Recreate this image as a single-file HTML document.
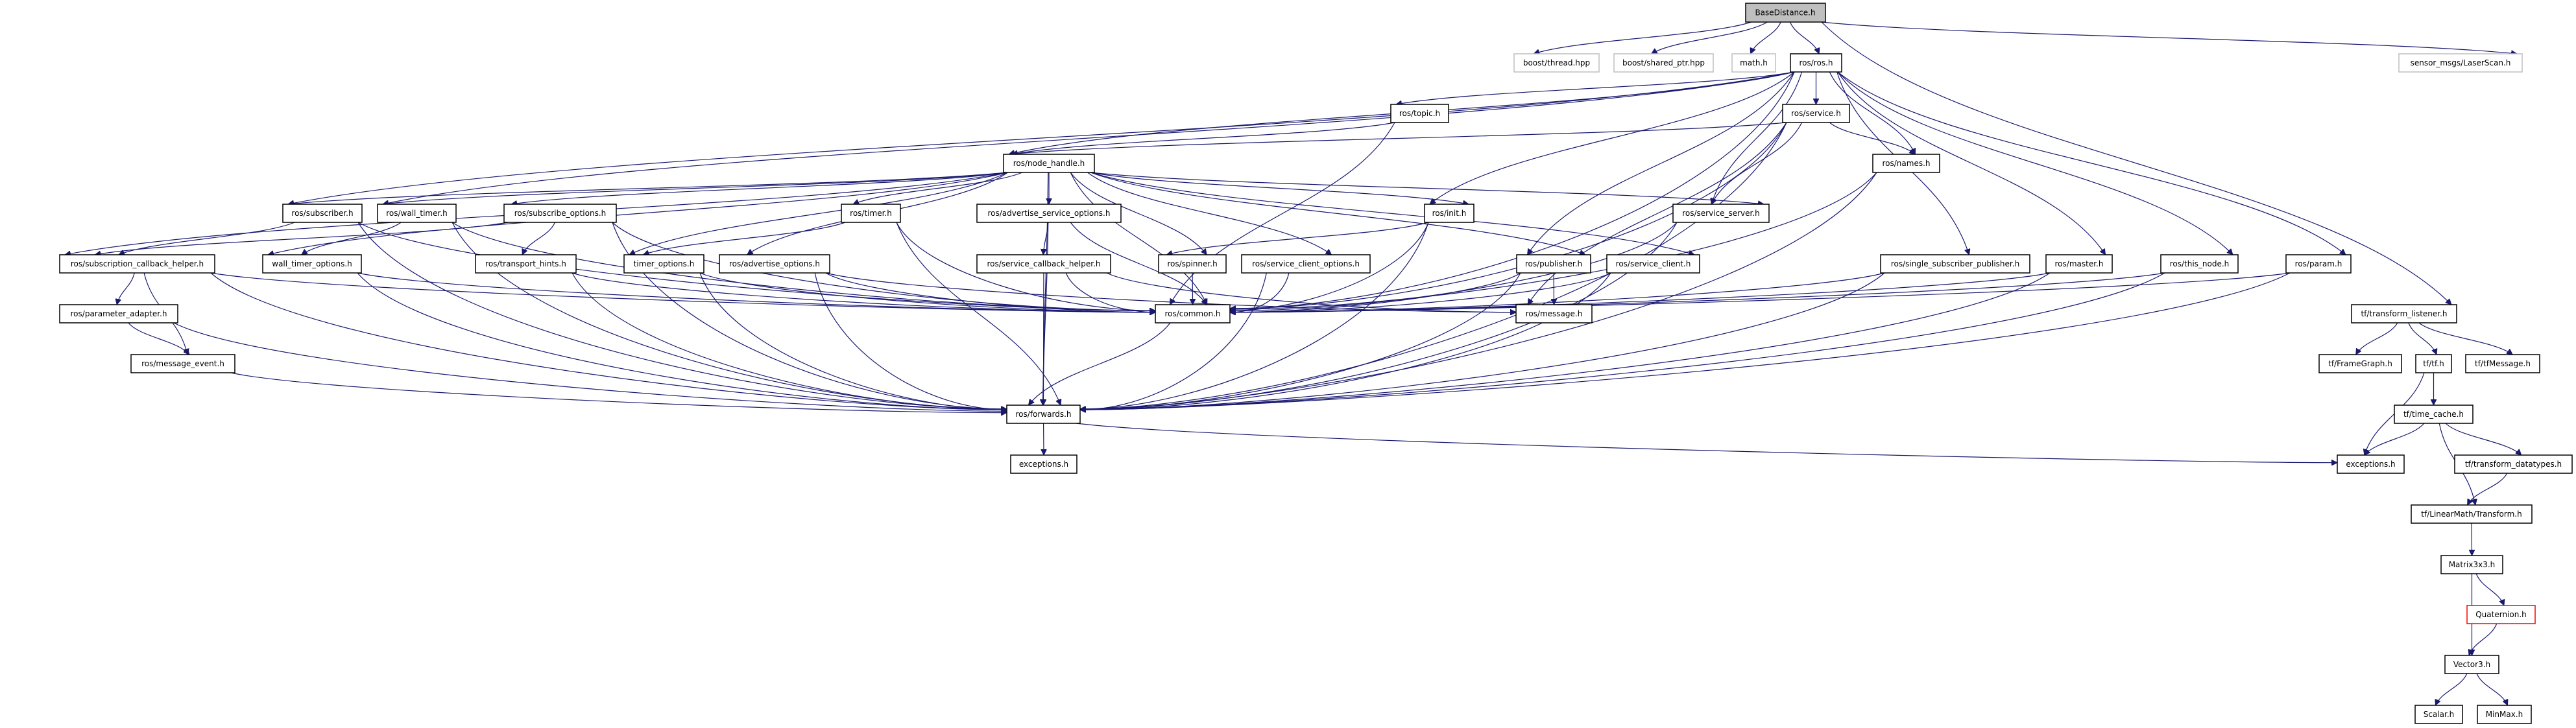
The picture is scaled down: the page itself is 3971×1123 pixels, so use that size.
<!DOCTYPE html>
<html><head><meta charset="utf-8">
<style>
html,body{margin:0;padding:0;background:#fff;}
svg{display:block;}
text{font-family:"DejaVu Sans","Liberation Sans",sans-serif;font-size:12px;fill:#000;text-anchor:middle;dominant-baseline:central;}
rect{fill:#fff;stroke:#000;stroke-width:1.5;}
rect.g{stroke:#bfbfbf;}
rect.b{fill:#bfbfbf;stroke:#000;}
rect.r{stroke:#ff0000;}
path.e{fill:none;stroke:#191970;stroke-width:1.2;}
</style></head><body>
<svg id="s" width="3971" height="1123" viewBox="0 0 3971 1123" xmlns="http://www.w3.org/2000/svg">
<defs><marker id="a" viewBox="0 0 10 10" refX="10" refY="5" markerWidth="9" markerHeight="9" markerUnits="userSpaceOnUse" orient="auto"><path d="M0,0 L10,5 L0,10 z" fill="#191970" stroke="#191970"/></marker></defs>
<g id="edges"></g>
<g id="nodes">
<g id="base"><rect class="b" x="2691" y="5" width="123" height="29"/><text x="2752" y="19.5">BaseDistance.h</text></g>
<g id="thread"><rect class="g" x="2334" y="83" width="131" height="28"/><text x="2399.5" y="97">boost/thread.hpp</text></g>
<g id="sptr"><rect class="g" x="2488" y="83" width="153" height="28"/><text x="2564.5" y="97">boost/shared_ptr.hpp</text></g>
<g id="math"><rect class="g" x="2670" y="83" width="67" height="28"/><text x="2703.5" y="97">math.h</text></g>
<g id="ros"><rect x="2760" y="83" width="79" height="28"/><text x="2799.5" y="97">ros/ros.h</text></g>
<g id="laser"><rect class="g" x="3698" y="83" width="190" height="28"/><text x="3793" y="97">sensor_msgs/LaserScan.h</text></g>
<g id="topic"><rect x="2144" y="161" width="89" height="28"/><text x="2188.5" y="175">ros/topic.h</text></g>
<g id="service"><rect x="2748" y="161" width="103" height="28"/><text x="2799.5" y="175">ros/service.h</text></g>
<g id="nh"><rect x="1547" y="238" width="140" height="28"/><text x="1617" y="252">ros/node_handle.h</text></g>
<g id="names"><rect x="2887" y="238" width="103" height="28"/><text x="2938.5" y="252">ros/names.h</text></g>
<g id="subscriber"><rect x="436" y="315" width="122" height="28"/><text x="497" y="329">ros/subscriber.h</text></g>
<g id="wt"><rect x="582" y="315" width="121" height="28"/><text x="642.5" y="329">ros/wall_timer.h</text></g>
<g id="subopts"><rect x="777" y="315" width="173" height="28"/><text x="863.5" y="329">ros/subscribe_options.h</text></g>
<g id="timer"><rect x="1297" y="315" width="91" height="28"/><text x="1342.5" y="329">ros/timer.h</text></g>
<g id="aso"><rect x="1506" y="315" width="222" height="28"/><text x="1617" y="329">ros/advertise_service_options.h</text></g>
<g id="init"><rect x="2196" y="315" width="76" height="28"/><text x="2234" y="329">ros/init.h</text></g>
<g id="sserver"><rect x="2579" y="315" width="148" height="28"/><text x="2653" y="329">ros/service_server.h</text></g>
<g id="scb"><rect x="92" y="393" width="239" height="28"/><text x="211.5" y="407">ros/subscription_callback_helper.h</text></g>
<g id="wto"><rect x="405" y="393" width="152" height="28"/><text x="481" y="407">wall_timer_options.h</text></g>
<g id="th"><rect x="733" y="393" width="155" height="28"/><text x="810.5" y="407">ros/transport_hints.h</text></g>
<g id="to"><rect x="962" y="393" width="123" height="28"/><text x="1023.5" y="407">timer_options.h</text></g>
<g id="ao"><rect x="1109" y="393" width="170" height="28"/><text x="1194" y="407">ros/advertise_options.h</text></g>
<g id="sch"><rect x="1506" y="393" width="206" height="28"/><text x="1609" y="407">ros/service_callback_helper.h</text></g>
<g id="spinner"><rect x="1786" y="393" width="104" height="28"/><text x="1838" y="407">ros/spinner.h</text></g>
<g id="sco"><rect x="1914" y="393" width="198" height="28"/><text x="2013" y="407">ros/service_client_options.h</text></g>
<g id="pub"><rect x="2338" y="393" width="114" height="28"/><text x="2395" y="407">ros/publisher.h</text></g>
<g id="sclient"><rect x="2477" y="393" width="143" height="28"/><text x="2548.5" y="407">ros/service_client.h</text></g>
<g id="ssp"><rect x="2899" y="393" width="230" height="28"/><text x="3014" y="407">ros/single_subscriber_publisher.h</text></g>
<g id="master"><rect x="3154" y="393" width="102" height="28"/><text x="3205" y="407">ros/master.h</text></g>
<g id="thisnode"><rect x="3331" y="393" width="119" height="28"/><text x="3390.5" y="407">ros/this_node.h</text></g>
<g id="param"><rect x="3524" y="393" width="100" height="28"/><text x="3574" y="407">ros/param.h</text></g>
<g id="pa"><rect x="92" y="470" width="182" height="28"/><text x="183" y="484">ros/parameter_adapter.h</text></g>
<g id="common"><rect x="1781" y="470" width="115" height="28"/><text x="1838.5" y="484">ros/common.h</text></g>
<g id="message"><rect x="2337" y="470" width="117" height="28"/><text x="2395.5" y="484">ros/message.h</text></g>
<g id="tl"><rect x="3625" y="470" width="162" height="28"/><text x="3706" y="484">tf/transform_listener.h</text></g>
<g id="me"><rect x="202" y="547" width="160" height="28"/><text x="282" y="561">ros/message_event.h</text></g>
<g id="fg"><rect x="3575" y="547" width="127" height="28"/><text x="3638.5" y="561">tf/FrameGraph.h</text></g>
<g id="tfh"><rect x="3724" y="547" width="55" height="28"/><text x="3751.5" y="561">tf/tf.h</text></g>
<g id="tfm"><rect x="3801" y="547" width="114" height="28"/><text x="3858" y="561">tf/tfMessage.h</text></g>
<g id="fwd"><rect x="1552" y="625" width="113" height="28"/><text x="1608.5" y="639">ros/forwards.h</text></g>
<g id="tc"><rect x="3691" y="625" width="121" height="28"/><text x="3751.5" y="639">tf/time_cache.h</text></g>
<g id="exc"><rect x="1558" y="702" width="102" height="28"/><text x="1609" y="716">exceptions.h</text></g>
<g id="exc2"><rect x="3603" y="702" width="103" height="28"/><text x="3654.5" y="716">exceptions.h</text></g>
<g id="td"><rect x="3784" y="702" width="181" height="28"/><text x="3874.5" y="716">tf/transform_datatypes.h</text></g>
<g id="tr"><rect x="3717" y="779" width="186" height="28"/><text x="3810" y="793">tf/LinearMath/Transform.h</text></g>
<g id="m33"><rect x="3763" y="857" width="95" height="28"/><text x="3810.5" y="871">Matrix3x3.h</text></g>
<g id="q"><rect class="r" x="3803" y="934" width="105" height="28"/><text x="3855.5" y="948">Quaternion.h</text></g>
<g id="v3"><rect x="3769" y="1011" width="83" height="28"/><text x="3810.5" y="1025">Vector3.h</text></g>
<g id="sc"><rect x="3723" y="1088" width="73" height="28"/><text x="3759.5" y="1102">Scalar.h</text></g>
<g id="mm"><rect x="3819" y="1088" width="83" height="28"/><text x="3860.5" y="1102">MinMax.h</text></g>
</g>
</svg>
<script>
(function(){
var E={
base:["thread","sptr","math","ros","laser","tl"],
ros:["nh","topic","service","init","common","names","pub","sserver","ssp","master","thisnode","param","subscriber","wt"],
topic:["nh","common"],
service:["nh","names","common","fwd","sserver","message"],
nh:["subscriber","wt","subopts","timer","aso","spinner","sco","init","pub","sserver","sclient","to","ao","wto","common","fwd","scb"],
subscriber:["scb","common","fwd"],
wt:["wto","common","fwd"],
subopts:["scb","th","common","fwd"],
timer:["to","common","fwd"],
scb:["pa","me","common","fwd"],
pa:["me","fwd"],
me:["fwd"],
wto:["common","fwd"],
th:["common","fwd"],
to:["common","fwd"],
ao:["common","fwd","message"],
aso:["sch","common","fwd"],
sch:["common","fwd","message"],
spinner:["common"],
sco:["common","fwd"],
init:["spinner","common","fwd"],
pub:["message","common","fwd"],
sclient:["common","fwd"],
sserver:["common","fwd"],
names:["common","fwd"],
ssp:["common","fwd"],
master:["common","fwd"],
thisnode:["common","fwd"],
param:["common","fwd"],
common:["fwd"],
fwd:["exc","exc2"],
tl:["fg","tfh","tfm"],
tfh:["exc2","tc"],
tc:["exc2","td","tr"],
td:["tr"],
tr:["m33"],
m33:["q","v3"],
q:["v3"],
v3:["sc","mm"]
};
var SIDE={common:1,fwd:1,message:1,exc2:1};
function box(id){var r=document.querySelector('#'+id+' rect');var x=+r.getAttribute('x'),y=+r.getAttribute('y'),w=+r.getAttribute('width'),h=+r.getAttribute('height');return{x:x,y:y,w:w,h:h,cx:x+w/2,cy:y+h/2,b:y+h};}
var g=document.getElementById('edges'),out='';
for(var s in E){var S=box(s);E[s].forEach(function(t){var T=box(t);
 var dx=T.cx-S.cx, dy=T.y-S.b;
 var sx=S.cx+Math.max(-S.w/2+6,Math.min(S.w/2-6,dx*0.15)), sy=S.b;
 var ex,ey,d;
 if(SIDE[t] && Math.abs(dx)>1.5*dy+T.w/2){
   ex=dx>0?T.x:T.x+T.w; ey=T.cy+Math.max(-8,Math.min(8,(S.cy-T.cy)*0.03));
   var c2x=ex-(dx>0?1:-1)*Math.min(300,Math.abs(dx)*0.3);
   d='M'+sx+','+sy+' C'+(sx+(c2x-sx)*0.15)+','+(sy+dy*0.6)+' '+c2x+','+ey+' '+ex+','+ey;
 } else {
   ex=T.cx-Math.max(-T.w/2+8,Math.min(T.w/2-8,-dx*0.1)); ey=T.y;
   var ddx=ex-sx;
   d='M'+sx+','+sy+' C'+(sx+ddx*0.2)+','+(sy+dy*0.45)+' '+(ex-ddx*0.2)+','+(ey-dy*0.45)+' '+ex+','+ey;
 }
 out+='<path class="e" marker-end="url(#a)" d="'+d+'"/>';
});}
g.innerHTML=out;
})();
</script>
</body></html>
